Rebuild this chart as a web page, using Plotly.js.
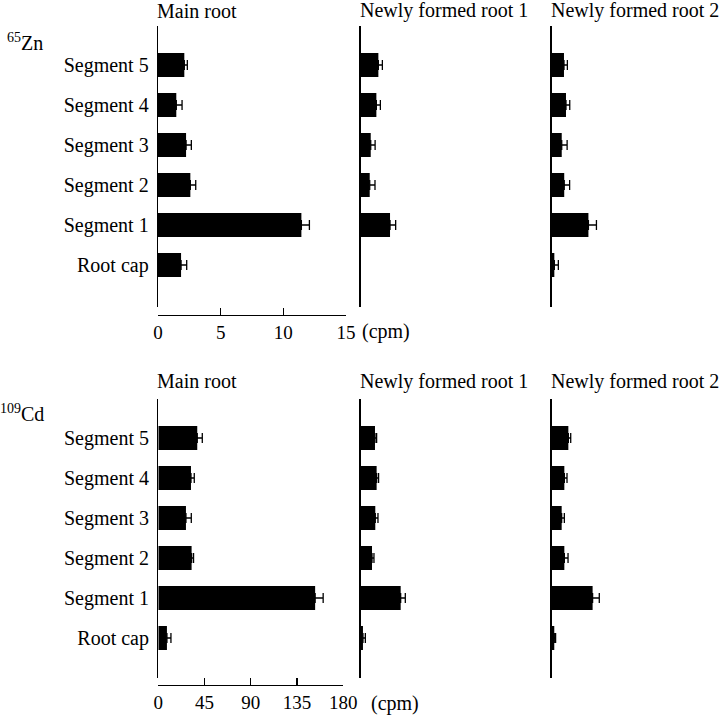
<!DOCTYPE html>
<html>
<head>
<meta charset="utf-8">
<script src="https://cdn.plot.ly/plotly-3.0.1.min.js"></script>
<style>html,body{margin:0;padding:0;background:#fff;}#chart{width:720px;height:715px;}</style>
</head>
<body>
<div id="chart"></div>
<script>
// Categories (bottom to top)
const categories = ['Root cap', 'Segment 1', 'Segment 2', 'Segment 3', 'Segment 4', 'Segment 5'];
const panelTitles = ['Main root', 'Newly formed root 1', 'Newly formed root 2'];

// 65Zn (cpm)
const znMain     = [1.84, 11.44, 2.58, 2.24, 1.46, 2.10];
const znMainErr  = [0.45, 0.64, 0.43, 0.42, 0.46, 0.24];
const znNew1     = [null, 2.34, 0.72, 0.80, 1.25, 1.41];
const znNew1Err  = [null, 0.45, 0.42, 0.35, 0.32, 0.32];
const znNew2     = [0.21, 2.93, 1.00, 0.80, 1.14, 0.98];
const znNew2Err  = [0.32, 0.64, 0.43, 0.43, 0.30, 0.27];

// 109Cd (cpm)
const cdMain     = [8.4, 152.6, 32.4, 26.9, 31.8, 37.9];
const cdMainErr  = [3.9, 7.8, 1.9, 5.2, 3.2, 4.9];
const cdNew1     = [2.2, 38.9, 11.0, 14.2, 15.5, 13.9];
const cdNew1Err  = [2.3, 4.5, 1.9, 2.6, 1.9, 1.6];
const cdNew2     = [2.5, 39.8, 12.3, 9.7, 12.3, 16.2];
const cdNew2Err  = [1.3, 6.5, 3.6, 2.6, 2.6, 2.3];

const znTicks = [0, 5, 10, 15];
const cdTicks = [0, 45, 90, 135, 180];

const W = 720, H = 715;
const fx = p => p / W;
const fy = p => 1 - p / H;
const FONT = 'Liberation Serif, Times New Roman, serif';

const series = [
  [znMain, znMainErr], [znNew1, znNew1Err], [znNew2, znNew2Err],
  [cdMain, cdMainErr], [cdNew1, cdNew1Err], [cdNew2, cdNew2Err]
];

const traces = series.map((s, i) => ({
  type: 'bar', orientation: 'h',
  x: s[0], y: categories,
  xaxis: 'x' + (i + 1), yaxis: 'y' + (i + 1),
  width: 0.6,
  marker: {color: '#000', line: {width: 0}},
  error_x: {type: 'data', array: s[1], symmetric: false,
            arrayminus: s[1].map(() => 0), color: '#000', thickness: 1.3, width: 5},
  cliponaxis: false, hoverinfo: 'none', showlegend: false
}));

// panel geometry (pixels)
const colLeft  = [158, 360.7, 551.7];
const colRight = [346, 545, 715];
const rows = [
  {top: 26, bottom: 307, axisY: 315, range: [-1.05, 5.975], max: 15, ticks: znTicks},
  {top: 399, bottom: 678, axisY: 685, range: [-1.0, 5.975], max: 180, ticks: cdTicks}
];

const layout = {
  width: W, height: H,
  margin: {l: 0, r: 0, t: 0, b: 0},
  paper_bgcolor: '#fff', plot_bgcolor: 'rgba(0,0,0,0)',
  font: {family: FONT, color: '#000', size: 20},
  annotations: [],
  showlegend: false
};

rows.forEach((r, ri) => {
  const mainW = (ri === 0 ? 188 : 185);
  const upx = r.max / mainW;
  for (let c = 0; c < 3; c++) {
    const n = ri * 3 + c + 1;
    const left = colLeft[c] + (ri === 1 && c === 0 ? 0.3 : 0);
    const right = (c === 0) ? left + mainW : colRight[c];
    const xa = {
      domain: [fx(left), fx(right)],
      range: [0, (right - left) * upx],
      anchor: 'free', position: fy(r.axisY),
      showgrid: false, zeroline: false, fixedrange: true
    };
    if (c === 0) {
      Object.assign(xa, {
        showline: true, linecolor: '#000', linewidth: 1.3,
        ticks: 'inside', ticklen: 7, tickwidth: 1.3, tickcolor: '#000',
        tickmode: 'array', tickvals: r.ticks, ticktext: r.ticks.map(String),
        tickfont: {family: FONT, size: 19, color: '#000'}
      });
    } else {
      Object.assign(xa, {showline: false, ticks: '', showticklabels: false});
    }
    layout['xaxis' + n] = xa;
    layout['yaxis' + n] = {
      domain: [fy(r.bottom), fy(r.top)],
      anchor: 'x' + n,
      type: 'category', categoryorder: 'array', categoryarray: categories,
      range: r.range,
      showline: true, linecolor: '#000', linewidth: 1.3,
      showgrid: false, zeroline: false, ticks: '',
      showticklabels: c === 0,
      ticklabelstandoff: 4,
      tickfont: {family: FONT, size: 20, color: '#000'},
      fixedrange: true
    };
    const titleY = ri === 0 ? 11 : 381;
    layout.annotations.push({
      xref: 'paper', yref: 'paper', x: fx(colLeft[c] - 3), y: fy(titleY),
      xanchor: 'left', yanchor: 'middle', showarrow: false,
      text: panelTitles[c], font: {family: FONT, size: 20, color: '#000'}
    });
  }
});

layout.annotations.push(
  {xref: 'paper', yref: 'paper', x: fx(5), y: fy(42), xanchor: 'left', yanchor: 'middle',
   showarrow: false, text: '<sup>65</sup>Zn', font: {family: FONT, size: 20, color: '#000'}},
  {xref: 'paper', yref: 'paper', x: fx(-2), y: fy(413), xanchor: 'left', yanchor: 'middle',
   showarrow: false, text: '<sup>109</sup>Cd', font: {family: FONT, size: 20, color: '#000'}},
  {xref: 'paper', yref: 'paper', x: fx(360), y: fy(331), xanchor: 'left', yanchor: 'middle',
   showarrow: false, text: '(cpm)', font: {family: FONT, size: 20, color: '#000'}},
  {xref: 'paper', yref: 'paper', x: fx(369), y: fy(703), xanchor: 'left', yanchor: 'middle',
   showarrow: false, text: '(cpm)', font: {family: FONT, size: 20, color: '#000'}}
);

Plotly.newPlot('chart', traces, layout, {displayModeBar: false, staticPlot: true});
</script>
</body>
</html>
